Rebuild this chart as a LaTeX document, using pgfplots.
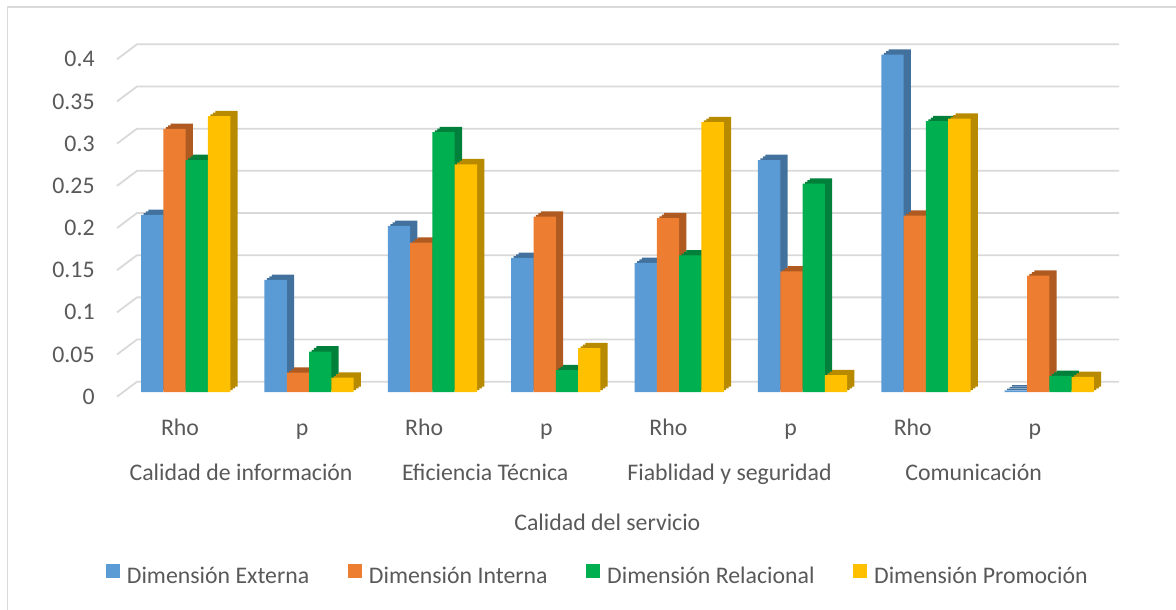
\documentclass[border=0pt]{standalone}
\usepackage{pgfplots}
\usepackage{pgfplotstable}
\pgfplotsset{compat=1.18}
\usepackage{fontspec}
\setmainfont{Carlito}
\definecolor{cB}{HTML}{5B9BD5}
\definecolor{cBd}{HTML}{41719C}
\definecolor{cO}{HTML}{ED7D31}
\definecolor{cOd}{HTML}{AE5A21}
\definecolor{cG}{HTML}{00B050}
\definecolor{cGd}{HTML}{00803A}
\definecolor{cY}{HTML}{FFC000}
\definecolor{cYd}{HTML}{B88A00}
\definecolor{txt}{HTML}{595959}
\definecolor{grd}{HTML}{D9D9D9}
\pgfplotstableread{
x ext int rel pro
0 0.210 0.312 0.275 0.327
1 0.133 0.023 0.048 0.017
2 0.197 0.177 0.308 0.270
3 0.159 0.208 0.026 0.052
4 0.153 0.206 0.162 0.320
5 0.275 0.143 0.247 0.020
6 0.400 0.209 0.321 0.324
7 0.002 0.138 0.019 0.018
}\data
\pgfplotsset{
  sh1/.style={draw=none, forget plot, xshift=3.65bp, yshift=2.65bp},
  sh2/.style={draw=none, forget plot, xshift=2.43bp, yshift=1.77bp},
  sh3/.style={draw=none, forget plot, xshift=1.22bp, yshift=0.88bp},
}
\begin{document}
\begin{tikzpicture}
\path[use as bounding box] (0,0) rectangle (588bp,305bp);
\draw[grd, line width=0.6bp] (3.8bp,0) -- (3.8bp,301.5bp) -- (588bp,301.5bp);
\begin{axis}[
  at={(62bp,109bp)}, anchor=south west,
  scale only axis, width=493.5bp, height=168.7bp,
  xmin=-0.5, xmax=7.5, ymin=0, ymax=0.4,
  clip=false,
  ybar=0pt, bar width=11.15bp,
  axis line style={draw=none},
  major tick length=0pt,
  font=\fontsize{11.9bp}{13.5bp}\selectfont,
  ytick={0,0.05,0.1,0.15,0.2,0.25,0.3,0.35,0.4},
  yticklabels={0,0.05,0.1,0.15,0.2,0.25,0.3,0.35,0.4},
  yticklabel style={anchor=east, inner sep=0pt, xshift=-14.5bp, yshift=-2.35bp, text=txt},
  xtick={-0.046,0.944,1.933,2.923,3.913,4.903,5.893,6.882},
  xticklabels={Rho,p,Rho,p,Rho,p,Rho,p},
  xticklabel style={anchor=base, inner sep=0pt, yshift=-21.5bp, text=txt},
  legend columns=4,
  legend style={at={(axis description cs:0,0)}, anchor=west, xshift=-9.25bp, yshift=-91.5bp,
    draw=none, fill=none, inner sep=0pt,
    nodes={inner sep=0pt, text=txt, font=\fontsize{11.9bp}{13.5bp}\selectfont},
    /tikz/every odd column/.append style={column sep=3.5bp},
    /tikz/every even column/.append style={column sep=19.3bp}},
  legend cell align=left,
]
\pgfplotsinvokeforeach{0,0.05,0.1,0.15,0.2,0.25,0.3,0.35,0.4}{
  \draw[grd, line width=0.9bp] ([xshift=-3.5bp,yshift=-2.35bp]axis cs:-0.5,#1) -- ([xshift=6.5bp,yshift=5.15bp]axis cs:-0.5,#1) -- ([xshift=4bp,yshift=5.15bp]axis cs:7.5,#1);
}
% shadows (3D depth)
\addplot[sh1, fill=cBd, bar shift=-16.725bp] table[x=x,y=ext]{\data};
\addplot[sh2, fill=cBd, bar shift=-16.725bp] table[x=x,y=ext]{\data};
\addplot[sh3, fill=cBd, bar shift=-16.725bp] table[x=x,y=ext]{\data};
\addplot[sh1, fill=cOd, bar shift=-5.575bp] table[x=x,y=int]{\data};
\addplot[sh2, fill=cOd, bar shift=-5.575bp] table[x=x,y=int]{\data};
\addplot[sh3, fill=cOd, bar shift=-5.575bp] table[x=x,y=int]{\data};
\addplot[sh1, fill=cGd, bar shift=5.575bp] table[x=x,y=rel]{\data};
\addplot[sh2, fill=cGd, bar shift=5.575bp] table[x=x,y=rel]{\data};
\addplot[sh3, fill=cGd, bar shift=5.575bp] table[x=x,y=rel]{\data};
\addplot[sh1, fill=cYd, bar shift=16.725bp] table[x=x,y=pro]{\data};
\addplot[sh2, fill=cYd, bar shift=16.725bp] table[x=x,y=pro]{\data};
\addplot[sh3, fill=cYd, bar shift=16.725bp] table[x=x,y=pro]{\data};
% fronts
\addplot[draw=none, fill=cB, bar shift=-16.725bp, legend image code/.code={\fill[cB] (0bp,-0.6bp) rectangle (7bp,6.4bp);}] table[x=x,y=ext]{\data};
\addplot[draw=none, fill=cO, bar shift=-5.575bp, legend image code/.code={\fill[cO] (0bp,-0.6bp) rectangle (7bp,6.4bp);}] table[x=x,y=int]{\data};
\addplot[draw=none, fill=cG, bar shift=5.575bp, legend image code/.code={\fill[cG] (0bp,-0.6bp) rectangle (7bp,6.4bp);}] table[x=x,y=rel]{\data};
\addplot[draw=none, fill=cY, bar shift=16.725bp, legend image code/.code={\fill[cY] (0bp,-0.6bp) rectangle (7bp,6.4bp);}] table[x=x,y=pro]{\data};
\legend{Dimensión Externa, Dimensión Interna, Dimensión Relacional, Dimensión Promoción}
\node[anchor=base, text=txt, inner sep=0pt, yshift=-44bp] at (axis cs:0.449,0) {Calidad de información};
\node[anchor=base, text=txt, inner sep=0pt, yshift=-44bp] at (axis cs:2.428,0) {Eficiencia Técnica};
\node[anchor=base, text=txt, inner sep=0pt, yshift=-44bp] at (axis cs:4.408,0) {Fiablidad y seguridad};
\node[anchor=base, text=txt, inner sep=0pt, yshift=-44bp] at (axis cs:6.3875,0) {Comunicación};
\node[anchor=base, text=txt, inner sep=0pt, yshift=-69bp] at (axis cs:3.418,0) {Calidad del servicio};
\end{axis}
\end{tikzpicture}
\end{document}
